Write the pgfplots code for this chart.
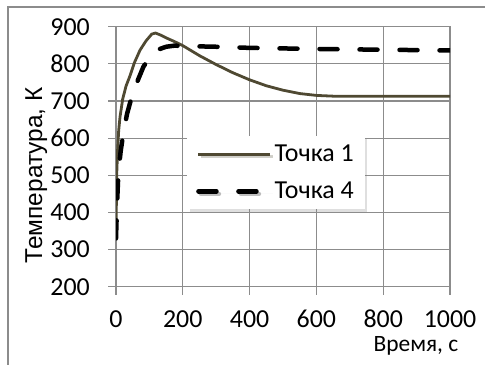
\documentclass[border=0pt]{standalone}
\usepackage{pgfplots}
\pgfplotsset{compat=1.18}
\usepackage{fontspec}
\setmainfont{Carlito}
\newfontfamily\arialfont{Liberation Sans}
\usetikzlibrary{shadows}

\definecolor{pt1}{RGB}{79,73,50}
\definecolor{gridgray}{RGB}{140,140,140}

\begin{document}
\begin{tikzpicture}[x=1bp,y=1bp]
\useasboundingbox (0,0) rectangle (485,364);
\draw[gridgray, line width=1.2bp] (8,-2) -- (8,357) -- (487,357);
\begin{axis}[
  at={(116bp,77.3bp)}, anchor=south west,
  width=334bp, height=260bp, scale only axis,
  xmin=0, xmax=1000, ymin=200, ymax=900,
  xtick={0,200,...,1000}, ytick={200,300,...,900},
  xtick pos=left, ytick pos=left,
  tick align=outside, major tick length=8bp,
  tick style={gridgray, line width=1.2bp},
  grid=major, grid style={gridgray, line width=1.2bp},
  axis line style={gridgray, line width=1.2bp},
  /pgf/number format/assume math mode=true,
  /pgf/number format/set thousands separator={},
  every tick label/.append style={font=\fontsize{26}{31}\selectfont, black},
  every y tick label/.append style={anchor=east, xshift=-14.7bp},
  every x tick label/.append style={anchor=north, yshift=-12bp},
  xlabel={Время, с},
  ylabel={Температура, К},
  xlabel style={font=\fontsize{23.5}{28}\selectfont,
    at={(axis description cs:0.898,0)}, anchor=center, yshift=-59bp},
  ylabel style={font=\arialfont\fontsize{24.5}{29}\selectfont,
    at={(axis description cs:0,0.428)}, anchor=center, yshift=79.7bp},
  legend style={at={(0.2126,0.58)}, anchor=north west, draw=none, fill=white,
    drop shadow={shadow xshift=2.5bp, shadow yshift=-2.5bp, opacity=0.25},
    font=\fontsize{26}{31}\selectfont, inner xsep=9bp, inner ysep=7bp,
    row sep=15bp},
  legend cell align=left,
  legend image code/.code={\draw[#1] (0bp,0bp) -- (72bp,0bp);},
]
\addplot[pt1, line width=2.8bp] coordinates {
 (0,330) (2,500) (5,572) (8,620) (12,657) (20,705) (30,740) (42,768)
 (55,803) (72,837) (90,862) (107,880) (118,883) (135,877) (150,870)
 (175,860) (200,849) (250,822) (300,798) (350,776) (400,757) (450,741)
 (500,729) (550,720) (600,715) (650,713) (700,713) (1000,713)
};
\addlegendentry{Точка 1}
\addplot[black, line width=4.5bp, line cap=round, dash pattern=on 18bp off 22bp] coordinates {
 (0,330) (3,420) (7,505) (14,565) (22,613) (33,665) (47,711) (65,755)
 (82,792) (102,819) (125,838) (150,846) (175,849) (200,848) (300,846)
 (400,843) (600,840) (800,838) (1000,836)
};
\addlegendentry{Точка 4}
\end{axis}
\end{tikzpicture}
\end{document}
